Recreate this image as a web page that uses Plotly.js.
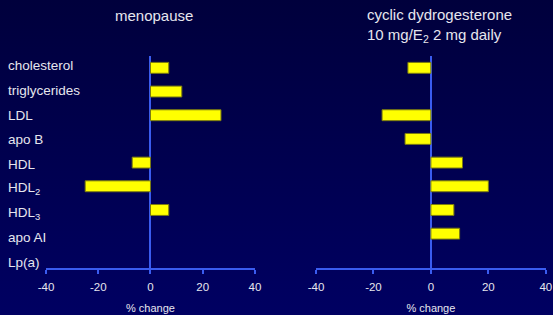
<!DOCTYPE html>
<html>
<head>
<meta charset="utf-8">
<script src="https://cdn.plot.ly/plotly-3.0.1.min.js"></script>
<style>
  html, body { margin: 0; padding: 0; width: 553px; height: 315px; overflow: hidden;
    background: linear-gradient(to bottom, #00003c, #000062); }
  #chart { width: 553px; height: 315px; }
</style>
</head>
<body>
<div id="chart"></div>
<script>
const categories = ['cholesterol', 'triglycerides', 'LDL', 'apo B', 'HDL', 'HDL2', 'HDL3', 'apo AI', 'Lp(a)'];
const categoryLabels = ['cholesterol', 'triglycerides', 'LDL', 'apo B', 'HDL', 'HDL<sub>2</sub>', 'HDL<sub>3</sub>', 'apo AI', 'Lp(a)'];
const menopause = [7, 12, 27, null, -7, -25, 7, null, null];
const dydrogesterone = [-8, null, -17, -9, 11, 20, 8, 10, null];
const xTicks = [-40, -20, 0, 20, 40];
const titleLeft = 'menopause';
const titleRight = 'cyclic dydrogesterone<br>10 mg/E<sub>2</sub> 2 mg daily';
const xTitle = '% change';

const FONT = 'Liberation Sans, Arial, sans-serif';
const TXT = '#e6e6ee';
const BLUE = '#3a5cf0';

const barStyle = {
  type: 'bar', orientation: 'h', width: 0.46,
  marker: { color: '#ffff00', line: { color: '#7a7a10', width: 1 } },
  hoverinfo: 'skip', showlegend: false
};

const traces = [
  Object.assign({}, barStyle, { x: menopause, y: categories, xaxis: 'x', yaxis: 'y' }),
  Object.assign({}, barStyle, { x: dydrogesterone, y: categories, xaxis: 'x2', yaxis: 'y2' })
];

function xAxis(domain, anchor) {
  return {
    domain: domain, anchor: anchor, range: [-40, 40],
    tickvals: xTicks, ticktext: xTicks.map(String),
    showgrid: false, zeroline: true, zerolinecolor: BLUE, zerolinewidth: 2,
    showline: true, linecolor: BLUE, linewidth: 2,
    ticks: 'outside', ticklen: 4, tickcolor: BLUE, tickwidth: 2,
    ticklabelstandoff: 3,
    tickfont: { family: FONT, size: 11.5, color: TXT },
    title: { text: xTitle, font: { family: FONT, size: 11, color: TXT }, standoff: 13 },
    fixedrange: true
  };
}
function yAxis(anchor) {
  return {
    anchor: anchor, type: 'category', categoryarray: categories,
    range: [8.45, -0.5], showticklabels: false, ticks: '',
    showgrid: false, zeroline: false, showline: false, fixedrange: true
  };
}

const annotations = [
  { text: titleLeft, xref: 'paper', yref: 'paper', x: 0.278, y: 1.189, xanchor: 'center', yanchor: 'middle',
    showarrow: false, font: { family: FONT, size: 15, color: TXT } },
  { text: titleRight, xref: 'paper', yref: 'paper', x: 0.66, y: 1.144, xanchor: 'left', yanchor: 'middle',
    align: 'left', showarrow: false, font: { family: FONT, size: 15, color: TXT } }
];
categories.forEach(function (c, i) {
  annotations.push({
    text: categoryLabels[i], xref: 'paper', yref: 'y', x: 0.0105, y: c,
    xanchor: 'left', yanchor: 'middle', yshift: 2 - 0.9 * i, showarrow: false,
    font: { family: FONT, size: 13.5, color: TXT }
  });
});

const layout = {
  width: 553, height: 315,
  margin: { l: 0, r: 0, t: 56, b: 47, pad: 0 },
  paper_bgcolor: 'rgba(0,0,0,0)', plot_bgcolor: 'rgba(0,0,0,0)',
  xaxis: xAxis([0.0832, 0.461], 'y'),
  yaxis: yAxis('x'),
  xaxis2: xAxis([0.5714, 0.987], 'y2'),
  yaxis2: yAxis('x2'),
  annotations: annotations,
  bargap: 0.5
};

Plotly.newPlot('chart', traces, layout, { displayModeBar: false, staticPlot: true });
</script>
</body>
</html>
